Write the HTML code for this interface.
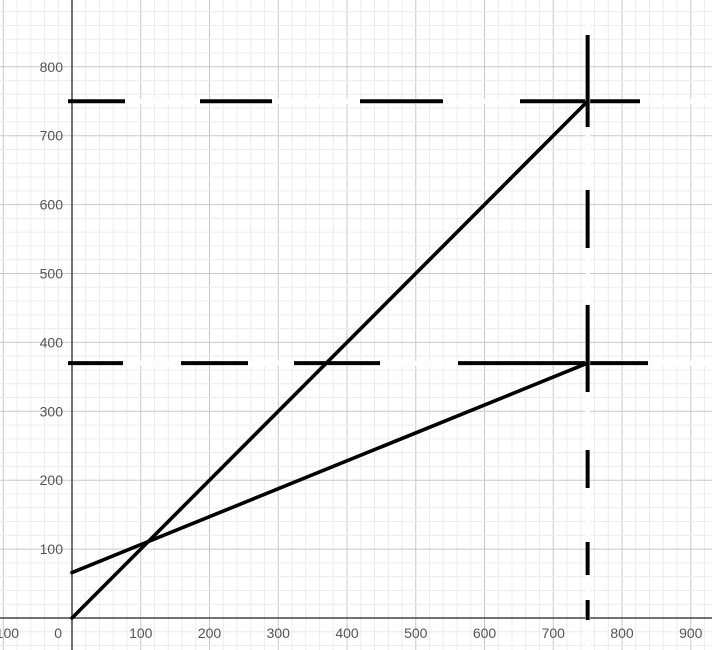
<!DOCTYPE html>
<html><head><meta charset="utf-8"><style>body{margin:0;background:#fff}svg{display:block;font-family:"Liberation Sans",sans-serif}</style></head>
<body>
<svg id="c" width="712" height="650" viewBox="0 0 712 650"></svg>
<script>
const xTicks=[-100,0,100,200,300,400,500,600,700,800,900];
const yTicks=[100,200,300,400,500,600,700,800];
const line1X=[0,750], line1Y=[0,750];
const line2X=[0,750], line2Y=[66,370];
const hLevels=[750,370];
const vLevels=[750];
const X=v=>72+v*0.6875, Y=v=>618-v*0.689;
const svg=document.getElementById('c'), NS='http://www.w3.org/2000/svg';
function mk(t,a,p){const e=document.createElementNS(NS,t);for(const k in a)e.setAttribute(k,a[k]);(p||svg).appendChild(e);return e;}
const grid=mk('g',{});


for(let v=-120;v<=1040;v+=20){const x=X(v);mk('line',{x1:x,x2:x,y1:0,y2:650,stroke:v%100==0?'#c8c8c8':'#ececec','stroke-width':1},grid);}
for(let v=-60;v<=900;v+=20){const y=Y(v);mk('line',{x1:0,x2:712,y1:y,y2:y,stroke:v%100==0?'#c8c8c8':'#ececec','stroke-width':1},grid);}
const ax=mk('line',{x1:0,x2:712,y1:Y(0),y2:Y(0),stroke:'#444','stroke-width':1.5});

const ay=mk('line',{x1:X(0),x2:X(0),y1:0,y2:650,stroke:'#444','stroke-width':1.5});

xTicks.forEach(v=>{const t=mk('text',{x:v==0?X(0)-10:X(v),y:638,'text-anchor':v==0?'end':'middle','font-size':14,fill:'#555'});t.textContent=v<0?'−'+(-v):v;
});
yTicks.forEach(v=>{const t=mk('text',{x:X(0)-9,y:Y(v)+5,'text-anchor':'end','font-size':14,fill:'#555'});t.textContent=v;
});
const hDash=['57 75 72 88 83 77 120 200','55 58 67 46 86 78 190 200'];
hLevels.forEach((v,i)=>{const y=Y(v);
mk('line',{x1:X(0)+2,x2:712,y1:y,y2:y,stroke:'#fff','stroke-width':5});
const d=mk('line',{x1:68,x2:712,y1:y,y2:y,stroke:'#000','stroke-width':4,'stroke-dasharray':hDash[i]});
});
vLevels.forEach(v=>{const x=X(v);
mk('line',{x1:x,x2:x,y1:15,y2:650,stroke:'#fff','stroke-width':5});
const d=mk('line',{x1:x,x2:x,y1:35,y2:650,stroke:'#000','stroke-width':4,'stroke-dasharray':'92 63 58 57 87 58 38 54 33 25 20 100'});
});
[[line1X,line1Y,'line-y-equals-x'],[line2X,line2Y,'line-two']].forEach(([xs,ys,n])=>{
const l=mk('line',{x1:X(xs[0]),y1:Y(ys[0]),x2:X(xs[1]),y2:Y(ys[1]),stroke:'#000','stroke-width':3.6,'stroke-linecap':'round'});
});
</script>
</body></html>
